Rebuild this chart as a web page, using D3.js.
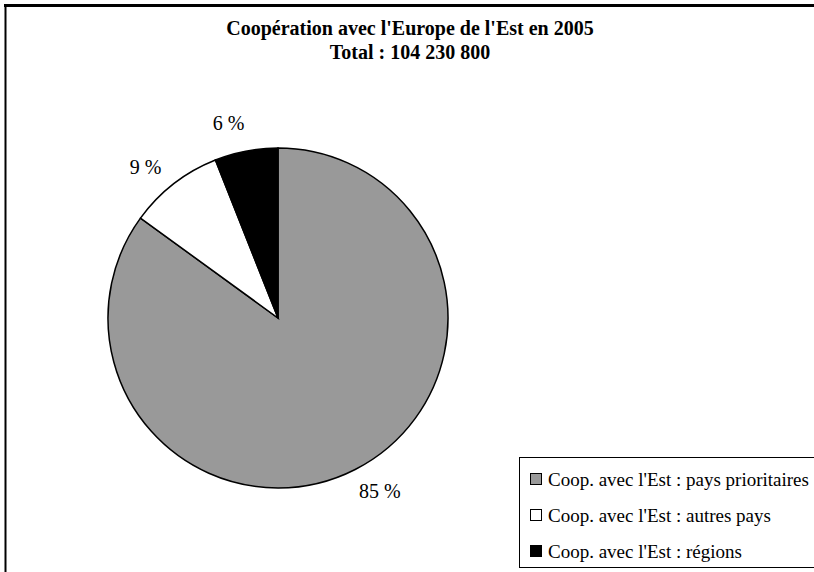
<!DOCTYPE html>
<html>
<head>
<meta charset="utf-8">
<script src="https://cdn.jsdelivr.net/npm/d3@7"></script>
<style>
    body { margin: 0; background: #fff; }
    svg { display: block; }
    text { font-family: "Liberation Serif", "Times New Roman", "DejaVu Serif", serif; }
</style>
</head>
<body>
<script>
var titleLines = ["Coopération avec l'Europe de l'Est en 2005", "Total : 104 230 800"];
var categories = ["Coop. avec l'Est : pays prioritaires",
                  "Coop. avec l'Est : autres pays",
                  "Coop. avec l'Est : régions"];
var shares = [85, 9, 6];
var fills = ["#999999", "#ffffff", "#000000"];

var width = 814, height = 572,
    cx = 278, cy = 318, radius = 170;

var svg = d3.select("body").append("svg")
        .attr("width", width)
        .attr("height", height);

// outer frame (right and bottom are cut off in the original)
svg.append("line")
    .attr("x1", 4).attr("x2", width).attr("y1", 5.5).attr("y2", 5.5)
    .attr("stroke", "#000").attr("stroke-width", 3);
svg.append("line")
    .attr("x1", 5.5).attr("x2", 5.5).attr("y1", 4).attr("y2", height)
    .attr("stroke", "#000").attr("stroke-width", 2);

svg.selectAll(".title")
    .data(titleLines)
    .enter().append("text")
    .attr("class", "title")
    .attr("x", 410)
    .attr("y", function(d, i) { return 35 + i * 24; })
    .attr("text-anchor", "middle")
    .style("font-weight", "bold")
    .style("font-size", "20px")
    .text(function(d) { return d; });

var pie = d3.pie().sort(null).value(function(d) { return d; });
var arc = d3.arc().innerRadius(0).outerRadius(radius);
// labels sit a bit outside the rim, nudged counter-clockwise like the original
var labelArc = d3.arc().innerRadius(201).outerRadius(201),
    nudge = -0.06;

var g = svg.append("g")
        .attr("transform", "translate(" + cx + "," + cy + ")");

var slices = pie(shares);

g.selectAll(".slice")
    .data(slices)
    .enter().append("path")
    .attr("class", "slice")
    .attr("d", arc)
    .attr("fill", function(d, i) { return fills[i]; })
    .attr("stroke", "#000")
    .attr("stroke-width", 1.5);

g.selectAll(".label")
    .data(slices)
    .enter().append("text")
    .attr("class", "label")
    .attr("transform", function(d) {
        var c = labelArc.centroid({startAngle: d.startAngle + nudge, endAngle: d.endAngle + nudge});
        return "translate(" + c + ")";
    })
    .attr("text-anchor", "middle")
    .attr("dy", "0.35em")
    .style("font-size", "20px")
    .text(function(d) { return d.data + " %"; });

// legend
var legend = svg.append("g")
        .attr("transform", "translate(519,457)");

legend.append("rect")
    .attr("x", 0.5).attr("y", 0.5)
    .attr("width", 310).attr("height", 110)
    .attr("fill", "#fff")
    .attr("stroke", "#000");

var items = legend.selectAll(".item")
        .data(categories)
        .enter().append("g")
        .attr("class", "item")
        .attr("transform", function(d, i) { return "translate(11," + (22 + i * 36) + ")"; });

items.append("rect")
    .attr("x", 0.5).attr("y", -5.5)
    .attr("width", 11).attr("height", 11)
    .attr("fill", function(d, i) { return fills[i]; })
    .attr("stroke", "#000");

items.append("text")
    .attr("x", 18)
    .attr("dy", "0.35em")
    .style("font-size", "19px")
    .text(function(d) { return d; });
</script>
</body>
</html>
